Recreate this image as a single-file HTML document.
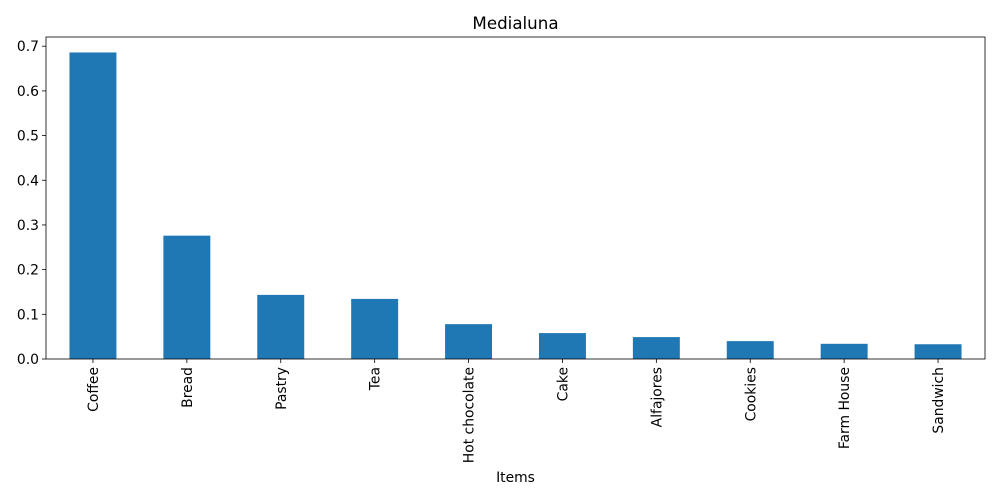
<!DOCTYPE html>
<html><head><meta charset="utf-8"><style>
html,body{margin:0;padding:0;background:#fff;}
svg{display:block;font-family:"DejaVu Sans","Liberation Sans",sans-serif;}
</style></head><body>
<svg id="chart" width="1000" height="500"></svg>
<script>
const categories=["Coffee","Bread","Pastry","Tea","Hot chocolate","Cake","Alfajores","Cookies","Farm House","Sandwich"];
const values=[0.686,0.276,0.1435,0.1345,0.078,0.058,0.049,0.040,0.034,0.033];
const yTicks=[0,0.1,0.2,0.3,0.4,0.5,0.6,0.7];
const yTickLabels=["0.0","0.1","0.2","0.3","0.4","0.5","0.6","0.7"];
const NS="http://www.w3.org/2000/svg";
const svg=document.getElementById('chart');
const L=46,R=985,T=37,B=359;
const yMax=0.7206;
const y=v=>B-(v/yMax)*(B-T);
const step=(R-L)/categories.length;
const x=i=>L+step*(i+0.5);
const bw=step*0.5;
function mk(tag,attrs,text){const e=document.createElementNS(NS,tag);for(const k in attrs)e.setAttribute(k,attrs[k]);if(text!==undefined)e.textContent=text;svg.appendChild(e);return e;}
values.forEach((v,i)=>{
  const r=mk('rect',{x:x(i)-bw/2,y:y(v),width:bw,height:B-y(v),fill:'#1f77b4'});
  
  
  const t=mk('line',{x1:x(i),x2:x(i),y1:B,y2:B+4,stroke:'#000','stroke-width':0.8});
  
  
  const lb=mk('text',{x:0,y:0,'font-size':13.9,'text-anchor':'end',transform:`translate(${x(i)+5},${B+8}) rotate(-90)`},categories[i]);
  
  
});
yTicks.forEach((v,i)=>{
  const t=mk('line',{x1:L-4,x2:L,y1:y(v),y2:y(v),stroke:'#000','stroke-width':0.8});
  
  
  const lb=mk('text',{x:L-7,y:y(v)+5,'font-size':13.9,'text-anchor':'end'},yTickLabels[i]);
  
  
});
const fr=mk('rect',{x:L,y:T,width:R-L,height:B-T,fill:'none',stroke:'#000','stroke-width':0.8});


const ti=mk('text',{x:(L+R)/2,y:29,'font-size':16.7,'text-anchor':'middle'},'Medialuna');


const xt=mk('text',{x:(L+R)/2,y:482,'font-size':13.9,'text-anchor':'middle'},'Items');


</script>
</body></html>
